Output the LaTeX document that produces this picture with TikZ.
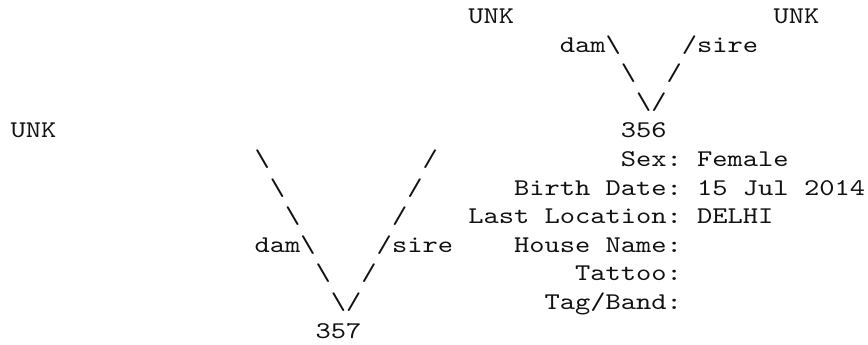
\documentclass[tikz,border=0pt]{standalone}
\usepackage{fontspec}
\newfontfamily\pedmono{lmmono10-regular.otf}[FakeStretch=1.211]
\newcommand\pedfont{\pedmono\fontsize{18pt}{21.45pt}\selectfont}
\definecolor{PedInk}{HTML}{111111}
\tikzset{
  pedtext/.style={font=\pedfont, inner sep=0pt, outer sep=0pt,
                  anchor=base west, text=PedInk},
  pedlabel/.style={pedtext},
  pedvalue/.style={pedtext},
}
\begin{document}
\begin{tikzpicture}[x=0.75pt,y=-0.75pt]
  \useasboundingbox (0,0) rectangle (868,345);

  % one unit = one character cell (column, row)
  \begin{scope}[shift={(10.5,23.5)}, x=11.445pt, y=-21.45pt]

  % parents of 356
  \node[pedtext] (unkDam356)  at (30,0) {UNK};
  \node[pedtext] (unkSire356) at (50,0) {UNK};
  \node[pedtext] (dam356)  at (36,1) {dam\textbackslash};
  \node[pedtext] (sire356) at (44,1) {/sire};
  \node[pedtext] (damA356)  at (40,2) {\textbackslash};
  \node[pedtext] (sireA356) at (43,2) {/};
  \node[pedtext] (damB356)  at (41,3) {\textbackslash};
  \node[pedtext] (sireB356) at (42,3) {/};

  % animal 356 and its record
  \node[pedtext] (unkDam357) at (0,4) {UNK};
  \node[pedtext] (id356) at (40,4) {356};
  \node[pedlabel] (sexLbl)   at (40,5) {Sex:};
  \node[pedvalue] (sexVal)   at (45,5) {Female};
  \node[pedlabel] (birthLbl) at (33,6) {Birth Date:};
  \node[pedvalue] (birthVal) at (45,6) {15 Jul 2014};
  \node[pedlabel] (locLbl)   at (30,7) {Last Location:};
  \node[pedvalue] (locVal)   at (45,7) {DELHI};
  \node[pedlabel] (houseLbl) at (33,8) {House Name:};
  \node[pedlabel] (tatLbl)   at (37,9) {Tattoo:};
  \node[pedlabel] (tagLbl)   at (35,10) {Tag/Band:};

  % parents of 357
  \foreach \r/\dc/\sc in {5/16/27, 6/17/26, 7/18/25}
    {\node[pedtext] (damUp\r)  at (\dc,\r) {\textbackslash};
     \node[pedtext] (sireUp\r) at (\sc,\r) {/};}
  \node[pedtext] (dam357)  at (16,8) {dam\textbackslash};
  \node[pedtext] (sire357) at (24,8) {/sire};
  \node[pedtext] (damA357)  at (20,9) {\textbackslash};
  \node[pedtext] (sireA357) at (23,9) {/};
  \node[pedtext] (damB357)  at (21,10) {\textbackslash};
  \node[pedtext] (sireB357) at (22,10) {/};

  % animal 357
  \node[pedtext] (id357) at (20,11) {357};

  \end{scope}
\end{tikzpicture}
\end{document}
